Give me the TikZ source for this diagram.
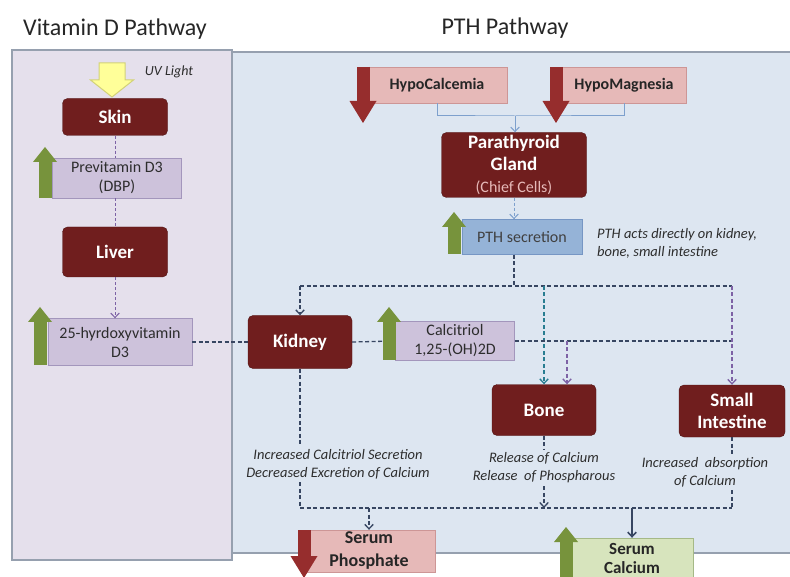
\documentclass[tikz,border=0pt]{standalone}
\usepackage{fontspec}
\setmainfont{Carlito}
\usepackage{tikz}
\usetikzlibrary{arrows.meta}
\tikzset{>={Straight Barb[length=1.6mm,width=3mm]}}

\definecolor{organ}{RGB}{112,30,30}
\definecolor{organline}{RGB}{80,20,20}
\definecolor{lavpanel}{RGB}{229,224,236}
\definecolor{bluepanel}{RGB}{221,230,241}
\definecolor{panelline}{RGB}{150,160,175}
\definecolor{lilac}{RGB}{205,194,219}
\definecolor{lilacline}{RGB}{163,150,188}
\definecolor{pinkfill}{RGB}{230,185,184}
\definecolor{pinkline}{RGB}{205,150,150}
\definecolor{bluefill}{RGB}{149,179,215}
\definecolor{blueline}{RGB}{118,150,196}
\definecolor{greenfill}{RGB}{215,228,189}
\definecolor{greenline}{RGB}{165,185,135}
\definecolor{upgreen}{RGB}{119,147,60}
\definecolor{downred}{RGB}{150,45,45}
\definecolor{uvfill}{RGB}{255,255,153}
\definecolor{uvline}{RGB}{210,210,120}
\definecolor{linkdark}{RGB}{55,70,98}
\definecolor{linkteal}{RGB}{40,125,145}
\definecolor{linkpurple}{RGB}{125,98,165}
\definecolor{linklight}{RGB}{125,160,205}
\definecolor{notegray}{RGB}{45,45,45}

\begin{document}
\begin{tikzpicture}[x=1pt,y=-1pt,
    organ/.style = {draw=organline, fill=organ, rounded corners=5pt, text=white,
        font=\fontsize{19}{22}\selectfont\bfseries, align=center, inner sep=0pt,
        minimum width=105pt, minimum height=37pt},
    lilacbox/.style = {draw=lilacline, fill=lilac, text=notegray,
        font=\fontsize{16}{19}\selectfont, align=center, inner sep=0pt},
    pinkbox/.style = {draw=pinkline, fill=pinkfill, text=black!85,
        font=\fontsize{16}{23}\selectfont\bfseries, align=center, inner sep=0pt},
    greenbox/.style = {draw=greenline, fill=greenfill, text=black!85,
        font=\fontsize{17}{19}\selectfont\bfseries, align=center, inner sep=0pt},
    bluebox/.style = {draw=blueline, fill=bluefill, text=black!75,
        font=\fontsize{16}{18}\selectfont, align=center, inner sep=0pt},
    note/.style = {text=notegray, font=\fontsize{14.5}{18}\selectfont\itshape,
        align=center, inner sep=3pt},
    title/.style = {text=black!85, font=\fontsize{24}{28}\selectfont},
    link/.style = {draw=linkdark, line width=1.3pt, dash pattern=on 4pt off 2.5pt},
    vitlink/.style = {draw=linkpurple, line width=1pt, dash pattern=on 3pt off 2pt},
    thinlink/.style = {draw=linklight, line width=1pt},
    up/.style = {draw=upgreen, line width=13pt,
        -{Triangle[length=15pt,width=24pt,line width=0pt]}},
    down/.style = {draw=downred, line width=13pt,
        -{Triangle[length=22pt,width=27pt,line width=0pt]}}]

\useasboundingbox (0,0) rectangle (790,577);
\fill[white] (0,0) rectangle (790,577);
\draw[draw=panelline, fill=lavpanel, line width=1.2pt] (12,50) rectangle (232,560);
\draw[draw=panelline, fill=bluepanel, line width=1.2pt] (232,52) rectangle (800,553);

\node[title] (vittitle) at (115,29) {Vitamin D Pathway};
\node[title] (pthtitle) at (505,28) {PTH Pathway};

% vitamin D side
\filldraw[fill=uvfill, draw=uvline, line width=1pt] (99,63) -- (125,63) -- (125,80)
    -- (133.5,80) -- (112,97) -- (90.5,80) -- (99,80) -- cycle;
\node[note, font=\fontsize{14}{16}\selectfont\itshape] (uvnote) at (169,72) {UV Light};
\node[organ] (skin) at (115,117) {Skin};
\node[lilacbox, minimum width=129pt, minimum height=40pt] (previt) at (117,178) {Previtamin D3\\(DBP)};
\node[organ, minimum height=50pt] (liver) at (115,252) {Liver};
\node[lilacbox, minimum width=144pt, minimum height=47pt] (hydroxy) at (120,342) {25-hyrdoxyvitamin\\D3};

% PTH side
\node[pinkbox, minimum width=140pt, minimum height=36pt] (hypocal) at (437,85) {HypoCalcemia};
\node[pinkbox, minimum width=125pt, minimum height=36pt] (hypomag) at (624,85) {HypoMagnesia};
\node[organ, minimum width=145pt, minimum height=65pt] (gland) at (514,165)
    {Parathyroid\\Gland\\{\mdseries\fontsize{16}{18}\selectfont\color{pinkfill}(Chief Cells)}};
\node[bluebox, minimum width=120pt, minimum height=35pt] (pthsec) at (522,237) {PTH secretion};
\node[note, align=left, anchor=west] (pthnote) at (594,243) {PTH acts directly on kidney,\\bone, small intestine};
\node[organ, minimum width=104pt, minimum height=53pt] (kidney) at (300,342) {Kidney};
\node[lilacbox, minimum width=119pt, minimum height=39pt] (calcitriol) at (455,341) {Calcitriol\\1,25-(OH)2D};
\node[organ, minimum width=104pt, minimum height=51pt] (bone) at (544,410) {Bone};
\node[organ, minimum width=106pt, minimum height=52pt] (intestine) at (732,411) {Small\\Intestine};
\node[note] (kidnote) at (338,464) {Increased Calcitriol Secretion\\Decreased Excretion of Calcium};
\node[note] (bonenote) at (544,468) {Release of Calcium\\Release\ \ of Phospharous};
\node[note] (intnote) at (705,472) {Increased\ \ absorption\\of Calcium};
\node[pinkbox, font=\fontsize{18}{23}\selectfont\bfseries, minimum width=132pt, minimum height=42pt] (phosphate) at (369,551) {Serum\\Phosphate};
\node[greenbox, minimum width=122pt, minimum height=40pt] (calcium) at (632,558) {Serum\\Calcium};

\coordinate (split) at (515,116);
\coordinate (join) at (514,286);
\coordinate (fork) at (567,341);
\coordinate (merge) at (514,508);

\draw[vitlink] (skin.south) -- (skin.south |- previt.north);
\draw[vitlink] (skin.south |- previt.south) -- (liver.north);
\draw[vitlink, ->] (liver.south) -- (liver.south |- hydroxy.north);
\draw[link] (hydroxy.east) -- (kidney.west);

\draw[thinlink] (hypocal.south) |- (split) -| (hypomag.south);
\draw[thinlink, ->] (split) -- (split |- gland.north);
\draw[thinlink, dash pattern=on 3pt off 2pt, ->] (gland.south) -- (gland.south |- pthsec.north);
\draw[link] (gland.south |- pthsec.south) -- (join);
\draw[link] (kidney.north |- join) -- (intestine.north |- join);
\draw[link, ->] (kidney.north |- join) -- (kidney.north);
\draw[link, draw=linkteal, ->] (bone.north |- join) -- (bone.north);
\draw[link] (kidney.east) -- (calcitriol.west);
\draw[link] (calcitriol.east) -- (calcitriol.east -| intestine.north);
\draw[link, draw=linkpurple, ->] (fork) -- (fork |- bone.north);
\draw[link, draw=linkpurple, ->] (intestine.north |- join) -- (intestine.north);

\draw[link] (kidney.south) -- (kidney.south |- kidnote.north);
\draw[link] (kidney.south |- kidnote.south) -- (kidney.south |- merge);
\draw[link] (bone.south) -- (bone.south |- bonenote.north);
\draw[link, ->] (bone.south |- bonenote.south) -- (bone.south |- merge);
\draw[link] (intestine.south) -- (intestine.south |- intnote.north);
\draw[link] (intestine.south |- intnote.south) -- (intestine.south |- merge);
\draw[link] (kidney.south |- merge) -- (intestine.south |- merge);
\draw[link, ->] (phosphate.north |- merge) -- (phosphate.north);
\draw[draw=linkdark, line width=1.6pt, ->] (calcium.north |- merge) -- (calcium.north);

% up and down markers
\draw[up] (45,198) -- (45,147);
\draw[up] (40,365) -- (40,307);
\draw[up] (454,254) -- (454,212);
\draw[up] (389,360) -- (389,307);
\draw[up] (566,590) -- (566,527);
\draw[down] (363,67) -- (363,123);
\draw[down] (556,67) -- (556,123);
\draw[down] (304,530) -- (304,578);
\end{tikzpicture}
\end{document}
